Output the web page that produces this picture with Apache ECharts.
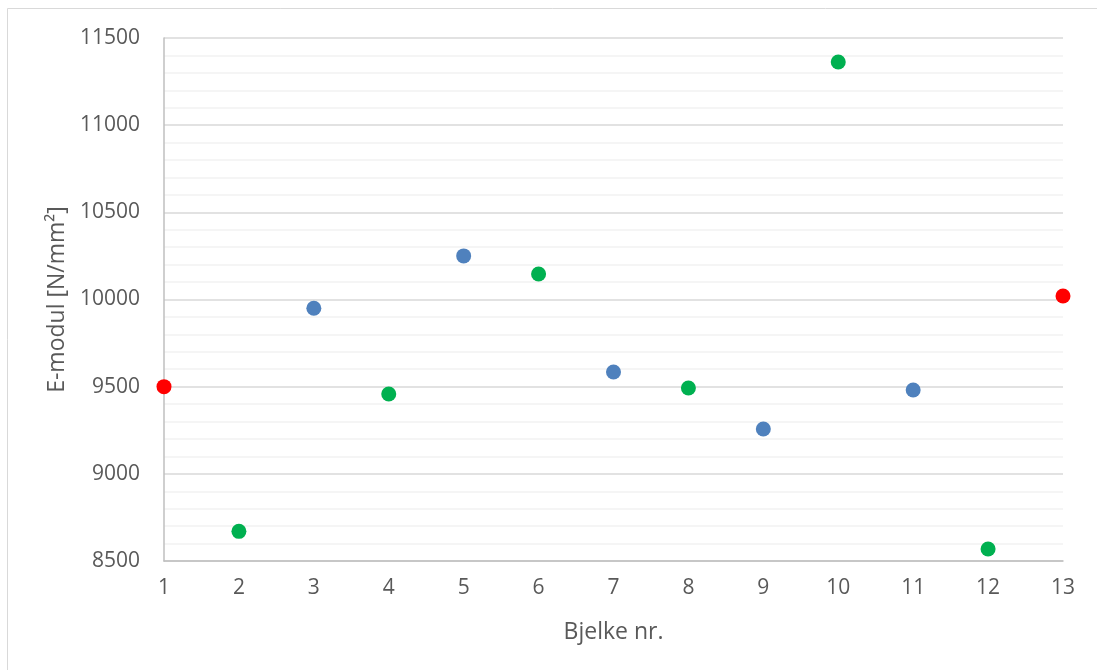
<!DOCTYPE html>
<html>
<head>
<meta charset="utf-8">
<script src="https://cdn.jsdelivr.net/npm/echarts@6/dist/echarts.min.js"></script>
<style>html,body{margin:0;padding:0;background:#fff;}#c{width:1097px;height:670px;}</style>
</head>
<body>
<div id="c"></div>
<script>
const bjelke = [1,2,3,4,5,6,7,8,9,10,11,12,13];
const eModul = [9500,8670,9950,9458,10250,10146,9584,9492,9257,11362,9481,8569,10020];
const pointColors = ['#FF0000','#00B050','#4F81BD','#00B050','#4F81BD','#00B050','#4F81BD','#00B050','#4F81BD','#00B050','#4F81BD','#00B050','#FF0000'];
const yMin = 8500, yMax = 11500, yStep = 500;
const xMin = 1, xMax = 13, xStep = 1;

const chart = echarts.init(document.getElementById('c'), null, {renderer:'canvas'});
const font = 'Open Sans';
chart.setOption({
  animation:false,
  backgroundColor:'#fff',
  graphic:[{type:'rect',shape:{x:7.5,y:8.5,width:1200,height:800},style:{fill:'none',stroke:'#D9D9D9',lineWidth:1},silent:true}],
  grid:{left:164,right:34,top:38,bottom:109,containLabel:false},
  xAxis:{
    type:'value',min:xMin,max:xMax,interval:xStep,
    name:'Bjelke nr.',nameLocation:'middle',nameGap:60,
    nameTextStyle:{fontFamily:font,fontSize:23,color:'#595959'},
    axisLine:{show:true,lineStyle:{color:'#BFBFBF',width:1.5}},
    axisTick:{show:false},
    splitLine:{show:false},
    axisLabel:{fontFamily:font,fontSize:21,color:'#595959',margin:17,formatter:v=>String(v)}
  },
  yAxis:{
    type:'value',min:yMin,max:yMax,interval:yStep,
    name:'E-modul [N/mm²]',nameLocation:'middle',nameGap:95,
    nameTextStyle:{fontFamily:font,fontSize:23,color:'#595959'},
    axisLine:{show:true,lineStyle:{color:'#BFBFBF',width:1.5}},
    axisTick:{show:false},
    minorTick:{show:false,splitNumber:5},
    splitLine:{show:true,lineStyle:{color:'#D9D9D9',width:1.5}},
    minorSplitLine:{show:true,lineStyle:{color:'#F2F2F2',width:1.5}},
    axisLabel:{fontFamily:font,fontSize:21,color:'#595959',margin:24,formatter:v=>String(v)}
  },
  series:[{
    type:'scatter',
    symbol:'circle',symbolSize:15,
    data:bjelke.map((b,i)=>({value:[b,eModul[i]],itemStyle:{color:pointColors[i],opacity:1}})),
    clip:false
  }]
});
</script>
</body>
</html>
